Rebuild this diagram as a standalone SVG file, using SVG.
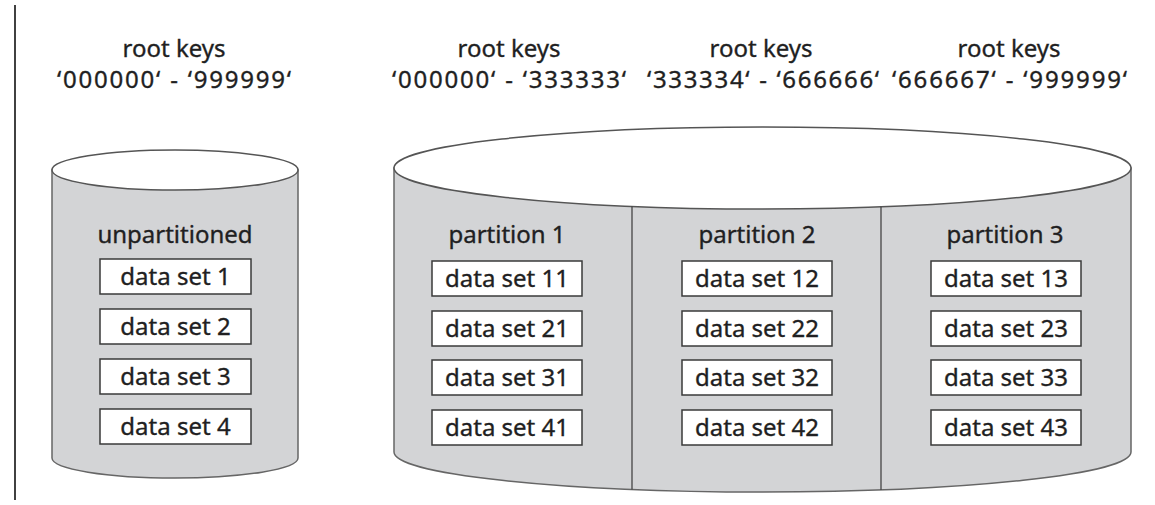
<svg xmlns="http://www.w3.org/2000/svg" width="1155" height="505" viewBox="0 0 1155 505">
<style>
text{font-family:"Noto Sans","Open Sans","DejaVu Sans",sans-serif;font-size:24px;fill:#1f1f22;stroke:#1f1f22;stroke-width:0.35;text-anchor:middle}
.body{fill:#d3d4d6;stroke:#666;stroke-width:1.5}
.top{fill:#fff;stroke:#555;stroke-width:1.5}
.div{stroke:#444;stroke-width:1.3;fill:none}
.box{fill:#fff;stroke:#3a3a3a;stroke-width:1.5}
</style>
<rect width="1155" height="505" fill="#fff"/>
<line x1="15" y1="5" x2="15" y2="500" stroke="#111" stroke-width="1.6"/>
<g id="labels">
<text x="174" y="57">root keys</text>
<text x="174" y="88" textLength="234" lengthAdjust="spacing">‘000000‘ - ‘999999‘</text>
<text x="509" y="57">root keys</text>
<text x="509" y="88" textLength="234" lengthAdjust="spacing">‘000000‘ - ‘333333‘</text>
<text x="761" y="57">root keys</text>
<text x="763" y="88" textLength="232" lengthAdjust="spacing">‘333334‘ - ‘666666‘</text>
<text x="1009" y="57">root keys</text>
<text x="1009.5" y="88" textLength="235" lengthAdjust="spacing">‘666667‘ - ‘999999‘</text>
</g>
<g id="unpartitioned-db">
<path class="body" d="M52,170 L52,458 A123,20 0 0 0 298,458 L298,170 Z"/>
<ellipse class="top" cx="175" cy="170" rx="123" ry="20"/>
<text x="175" y="243">unpartitioned</text>
<rect class="box" x="100" y="259" width="151" height="35"/><text x="175.5" y="285">data set 1</text>
<rect class="box" x="100" y="309" width="151" height="35"/><text x="175.5" y="335">data set 2</text>
<rect class="box" x="100" y="359" width="151" height="35"/><text x="175.5" y="385">data set 3</text>
<rect class="box" x="100" y="409" width="151" height="35"/><text x="175.5" y="435">data set 4</text>
</g>
<g id="partitioned-db">
<path class="body" d="M394,168 L394,452 A368.5,40 0 0 0 1131,452 L1131,168 Z"/>
<ellipse class="top" cx="762.5" cy="168" rx="368.5" ry="41"/>
<line class="div" x1="632" y1="206.3" x2="632" y2="489.4"/>
<line class="div" x1="881" y1="206.8" x2="881" y2="489.9"/>
</g>
<g id="partition-1">
<text x="507" y="243">partition 1</text>
<rect class="box" x="432" y="261" width="150" height="35"/><text x="507" y="287">data set 11</text>
<rect class="box" x="432" y="311" width="150" height="35"/><text x="507" y="337">data set 21</text>
<rect class="box" x="432" y="360" width="150" height="35"/><text x="507" y="386">data set 31</text>
<rect class="box" x="432" y="410" width="150" height="35"/><text x="507" y="436">data set 41</text>
</g>
<g id="partition-2">
<text x="757" y="243">partition 2</text>
<rect class="box" x="682" y="261" width="150" height="35"/><text x="757" y="287">data set 12</text>
<rect class="box" x="682" y="311" width="150" height="35"/><text x="757" y="337">data set 22</text>
<rect class="box" x="682" y="360" width="150" height="35"/><text x="757" y="386">data set 32</text>
<rect class="box" x="682" y="410" width="150" height="35"/><text x="757" y="436">data set 42</text>
</g>
<g id="partition-3">
<text x="1005" y="243">partition 3</text>
<rect class="box" x="931" y="261" width="150" height="35"/><text x="1006" y="287">data set 13</text>
<rect class="box" x="931" y="311" width="150" height="35"/><text x="1006" y="337">data set 23</text>
<rect class="box" x="931" y="360" width="150" height="35"/><text x="1006" y="386">data set 33</text>
<rect class="box" x="931" y="410" width="150" height="35"/><text x="1006" y="436">data set 43</text>
</g>
<g id="connectors"/>
</svg>
